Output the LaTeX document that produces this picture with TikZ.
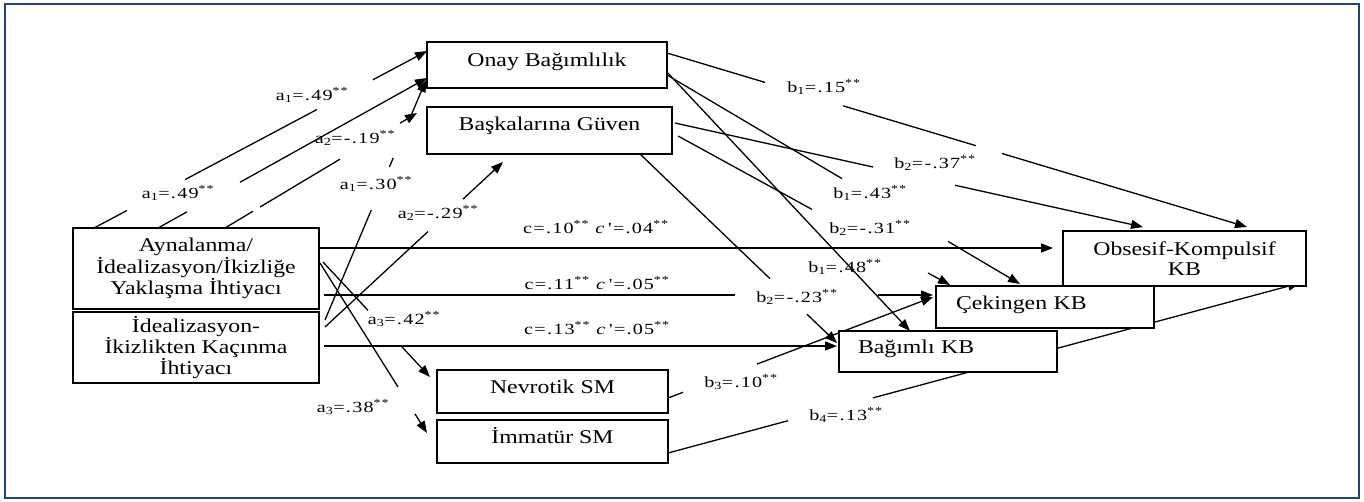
\documentclass[tikz,border=0pt]{standalone}
\usepackage{fontspec}
\setmainfont{Liberation Serif}
\newfontfamily\boxfont{Liberation Serif}[FakeStretch=1.22]
\newfontfamily\pathfont{Liberation Serif}[FakeStretch=1.3,LetterSpace=8]
\usetikzlibrary{arrows.meta,backgrounds}
\definecolor{framecol}{RGB}{38,64,120}
\newcommand{\coef}[3]{#1\textsubscript{#2}=#3\textsuperscript{**}}
\newcommand{\ceff}[2]{c=#1\textsuperscript{**} \textit{c}\,'=#2\textsuperscript{**}}

\begin{document}
\begin{tikzpicture}[x=1pt,y=-1pt,
  mbox/.style={draw,fill=white,line width=1.3pt,inner sep=0pt,outer sep=0pt,anchor=north west,font=\boxfont\fontsize{19.5}{20}\selectfont},
  obox/.style={mbox,line width=2.4pt},
  lbl/.style={inner sep=0pt,font=\pathfont\fontsize{15.5}{17}\selectfont},
  link/.style={line width=1.3pt,-{Triangle[length=12pt,width=9pt]}}]
\useasboundingbox (0,0) rectangle (1364,501);
\draw[framecol,line width=2pt] (5,4) rectangle (1359,498);

\node[mbox,minimum width=246pt,minimum height=81pt,align=center] (ayn) at (73,228) {Aynalanma/\\İdealizasyon/İkizliğe\\Yaklaşma İhtiyacı};
\node[mbox,minimum width=246pt,minimum height=71pt,align=center] (ide) at (73,312) {İdealizasyon-\\İkizlikten Kaçınma\\İhtiyacı};
\node[mbox,minimum width=240pt,text height=24pt,text depth=22pt] (onay) at (427,42) {Onay Bağımlılık};
\node[mbox,minimum width=245pt,text height=23pt,text depth=24pt] (bg) at (427,107) {Başkalarına Güven};
\node[obox,minimum width=231pt,text height=23pt,text depth=20pt] (nev) at (437,370) {Nevrotik SM};
\node[obox,minimum width=231pt,text height=23pt,text depth=20pt] (imm) at (437,420) {İmmatür SM};
\node[obox,minimum width=243pt,minimum height=55pt,align=center] (okkb) at (1063,231) {Obsesif-Kompulsif\\KB};
\node[obox,text width=178pt,inner xsep=20pt,align=left,text height=23pt,text depth=19pt] (cek) at (936,286) {Çekingen KB};
\node[obox,text width=180pt,inner xsep=19pt,align=left,text height=22pt,text depth=19pt] (bag) at (839,331) {Bağımlı KB};

\begin{scope}[on background layer]
\draw[link,dash pattern=on 37.4pt off 65.7pt on 149.4pt off 63.4pt on 400pt] ([xshift=21pt]ayn.north west) -- ([yshift=-9pt]onay.north west);
\draw[link,dash pattern=on 33.2pt off 60.7pt on 400pt] ([xshift=85pt]ayn.north west) -- ([yshift=10pt]onay.south west);
\draw[link,dash pattern=on 32.6pt off 8.2pt on 93.3pt off 69.9pt on 400pt] ([xshift=152pt]ayn.north west) -- ([xshift=-10pt,yshift=-6pt]bg.north west);
\draw[link,dash pattern=on 119.3pt off 46.7pt on 9.8pt off 46.7pt on 400pt] ([xshift=6pt,yshift=-8pt]ide.north east) -- ([xshift=-1pt,yshift=8pt]onay.south west);
\draw[link,dash pattern=on 140.4pt off 47.7pt on 400pt] ([xshift=6pt,yshift=-15pt]ide.north east) -- ([xshift=76pt,yshift=-8pt]bg.south west);
\draw[link,dash pattern=on 66pt off 49.9pt on 400pt] ([xshift=4pt,yshift=-34pt]ayn.north east) -- ([xshift=-7pt,yshift=-7pt]nev.north west);
\draw[link,dash pattern=on 146.4pt off 31.9pt on 400pt] ([xshift=1pt,yshift=-35pt]ayn.north east) -- ([xshift=-10pt,yshift=-13pt]imm.north west);
\draw[link] ([yshift=-20pt]ayn.north east) -- ([xshift=-10pt,yshift=-17pt]okkb.north west);
\draw[link,dash pattern=on 411pt off 143pt on 400pt] ([xshift=5pt,yshift=14pt]ayn.south east) -- ([xshift=-3pt,yshift=-9pt]cek.north west);
\draw[link] ([xshift=5pt,yshift=-34pt]ide.north east) -- ([xshift=-2pt,yshift=-15pt]bag.north west);
\draw[link,dash pattern=on 102.3pt off 81.4pt on 138.9pt off 27.1pt on 400pt] ([yshift=-11pt]onay.north east) -- ([xshift=184pt,yshift=4pt]okkb.north west);
\draw[link,dash pattern=on 203.4pt off 123.2pt on 400pt] ([yshift=13pt]onay.south east) -- ([xshift=84pt,yshift=2pt]cek.north west);
\draw[link] ([xshift=-2pt,yshift=18pt]onay.south east) -- ([xshift=71pt]bag.north west);
\draw[link,dash pattern=on 202.8pt off 84pt on 400pt] ([xshift=3pt,yshift=-16pt]bg.north east) -- ([xshift=80pt,yshift=4pt]okkb.north west);
\draw[link,dash pattern=on 152.8pt off 132.3pt on 400pt] ([xshift=6pt,yshift=-29pt]bg.north east) -- ([xshift=14pt,yshift=1pt]cek.north west);
\draw[link,dash pattern=on 180.1pt off 51.3pt on 400pt] ([xshift=213pt]bg.south west) -- ([xshift=-2pt,yshift=-12pt]bag.north west);
\draw[link,dash pattern=on 16.1pt off 79.2pt on 400pt] ([yshift=15pt]nev.south east) -- ([xshift=-3pt,yshift=-11pt]cek.north west);
\draw[link,dash pattern=on 124.3pt off 88pt on 800pt] ([yshift=10pt]imm.south east) -- ([xshift=-6pt,yshift=3pt]okkb.south east);
\end{scope}

\node[lbl] (la1) at (312,95) {\coef{a}{1}{.49}};
\node[lbl] (la1b) at (178,193) {\coef{a}{1}{.49}};
\node[lbl] (la2) at (355,138) {\coef{a}{2}{-.19}};
\node[lbl] (la1c) at (376,184) {\coef{a}{1}{.30}};
\node[lbl] (la2b) at (438,213) {\coef{a}{2}{-.29}};
\node[lbl] (la3) at (404,319) {\coef{a}{3}{.42}};
\node[lbl] (la3b) at (353,407) {\coef{a}{3}{.38}};
\node[lbl] (lc1) at (596,227) {\ceff{.10}{.04}};
\node[lbl] (lc2) at (597,283) {\ceff{.11}{.05}};
\node[lbl] (lc3) at (597,328) {\ceff{.13}{.05}};
\node[lbl] (lb1) at (824,87) {\coef{b}{1}{.15}};
\node[lbl] (lb2) at (935,163) {\coef{b}{2}{-.37}};
\node[lbl] (lb1b) at (870,193) {\coef{b}{1}{.43}};
\node[lbl] (lb2b) at (870,228) {\coef{b}{2}{-.31}};
\node[lbl] (lb1c) at (845,267) {\coef{b}{1}{.48}};
\node[lbl] (lb2c) at (797,297) {\coef{b}{2}{-.23}};
\node[lbl] (lb3) at (741,382) {\coef{b}{3}{.10}};
\node[lbl] (lb4) at (846,415) {\coef{b}{4}{.13}};
\end{tikzpicture}
\end{document}
